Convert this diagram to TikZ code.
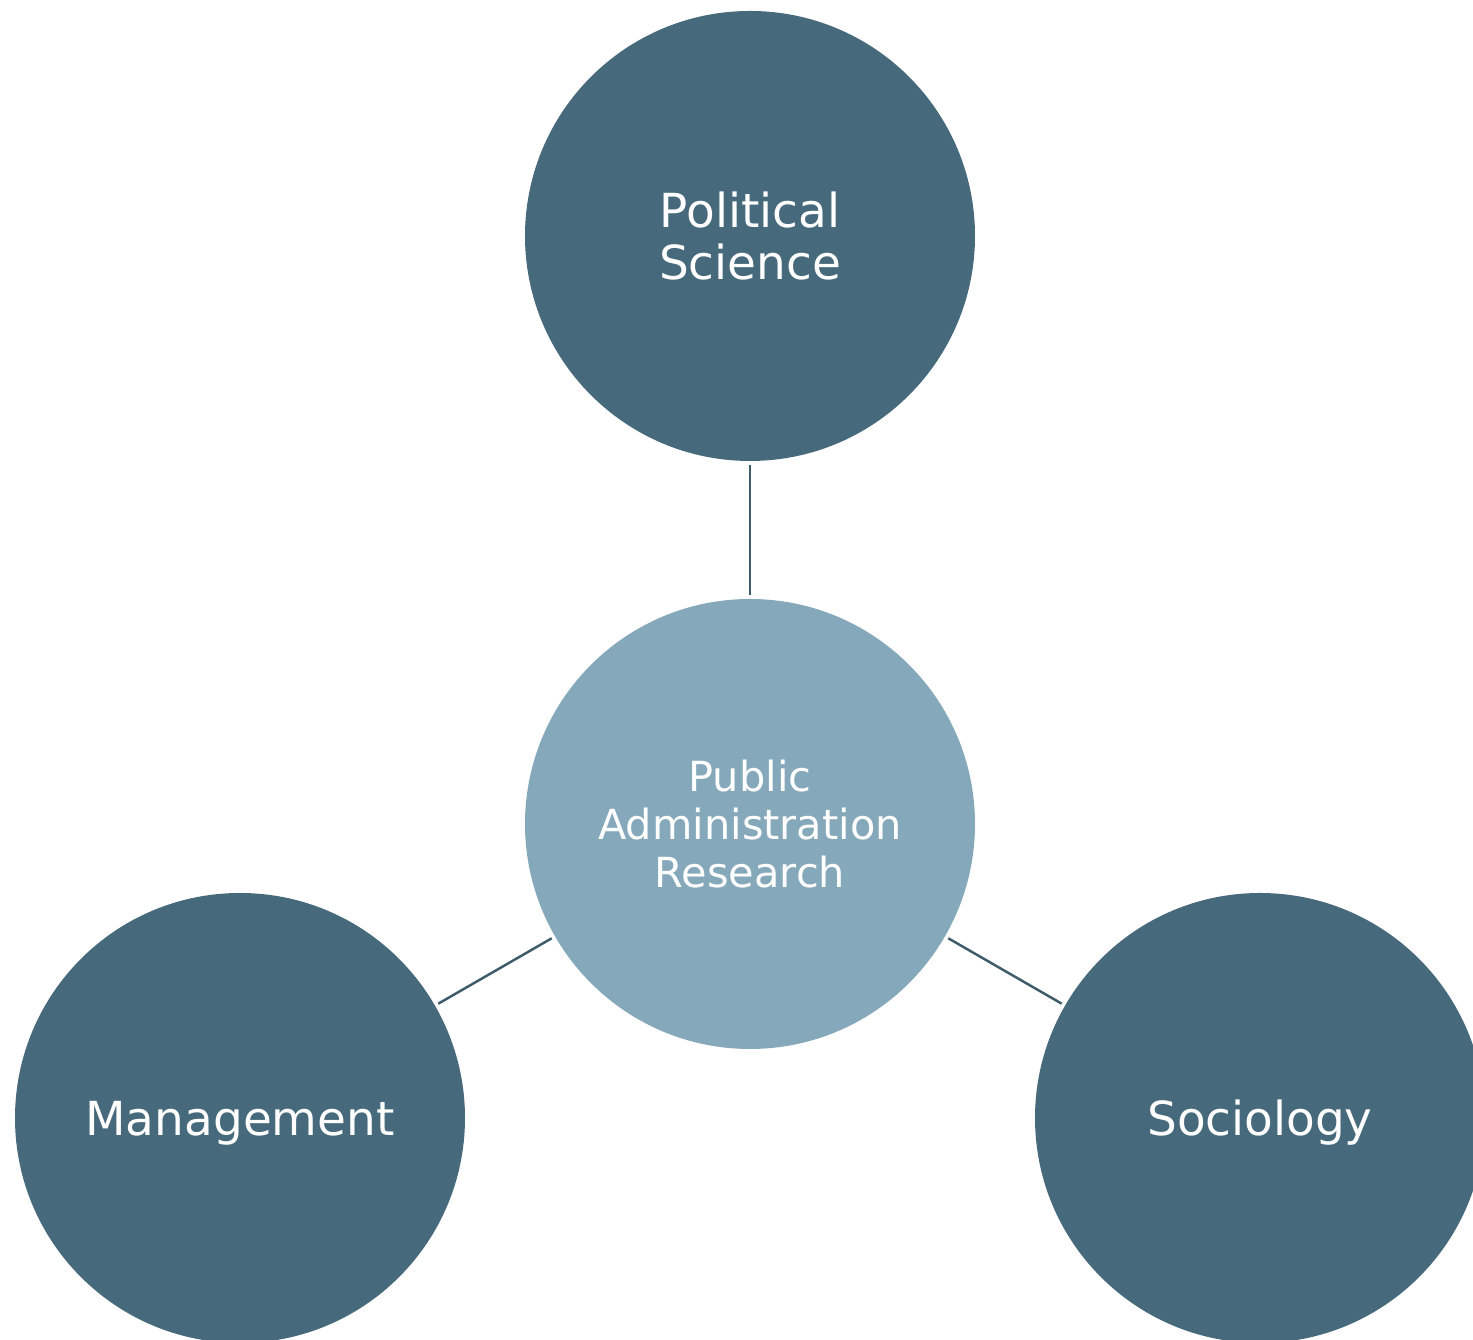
\documentclass[tikz,border=0pt]{standalone}
\usepackage{fontspec}
\setmainfont{DejaVu Sans}
\usepackage{xcolor}
\definecolor{outer}{HTML}{46697B}
\definecolor{inner}{HTML}{85A9BB}
\definecolor{link}{HTML}{3E5B6A}

\begin{document}
\begin{tikzpicture}[
  field/.style={circle,fill=outer,minimum size=9cm,inner sep=0pt,text=white,
    align=center,text depth=0pt,font=\fontsize{26.7}{29.8}\selectfont},
  core/.style={circle,fill=inner,minimum size=9cm,inner sep=0pt,text=white,
    align=center,font=\fontsize{23.6}{27.2}\selectfont}]
\useasboundingbox (0,0) rectangle (29.46,26.8);
\node[core] (pa) at (15.0,10.32) {Public\\Administration\\Research};
\node[field] (pol) at (15.0,22.08) {Political\\Science};
\node[field] (man) at (4.8,4.44) {Management};
\node[field] (soc) at (25.2,4.44) {Sociology};
\draw[line width=1.4pt,link,shorten <=2pt,shorten >=2pt] (pa)--(pol);
\draw[line width=1.4pt,link,shorten <=2pt,shorten >=2pt] (pa)--(man);
\draw[line width=1.4pt,link,shorten <=2pt,shorten >=2pt] (pa)--(soc);
\end{tikzpicture}
\end{document}
